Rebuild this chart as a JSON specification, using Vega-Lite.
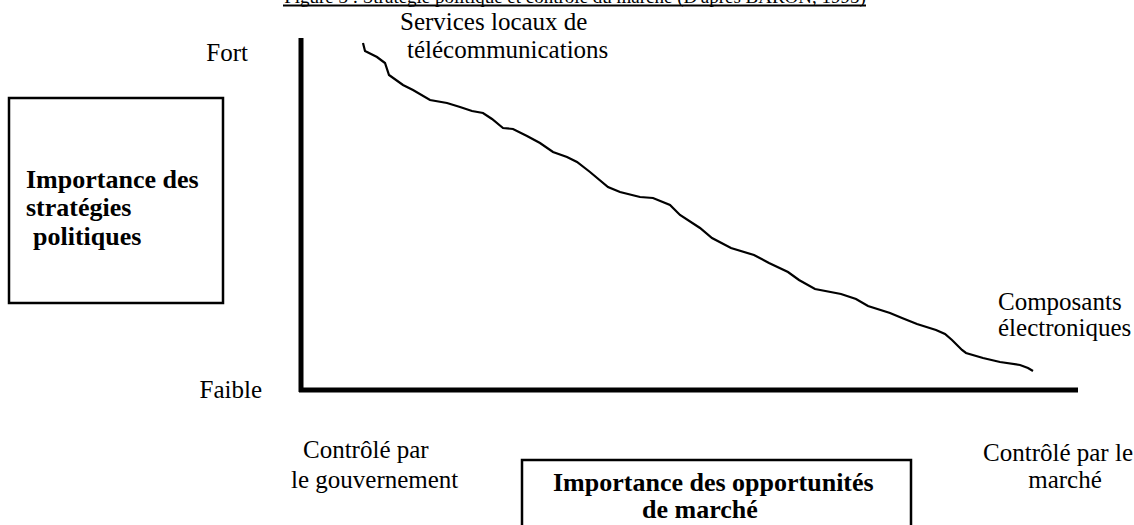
{
  "$schema": "https://vega.github.io/schema/vega-lite/v6.json",
  "width": 1134,
  "height": 525,
  "autosize": {"type": "none"},
  "padding": 0,
  "background": "white",
  "config": {"view": {"stroke": null}},
  "datasets": {
    "curve": [
      {"x": 62, "y": 347}, {"x": 64, "y": 339}, {"x": 76, "y": 333}, {"x": 84, "y": 327},
      {"x": 88, "y": 315}, {"x": 102, "y": 305}, {"x": 112, "y": 300}, {"x": 129, "y": 290},
      {"x": 146, "y": 287}, {"x": 159, "y": 283}, {"x": 171, "y": 279}, {"x": 182, "y": 277},
      {"x": 191, "y": 271}, {"x": 202, "y": 262}, {"x": 212, "y": 261}, {"x": 226, "y": 254},
      {"x": 239, "y": 247}, {"x": 252, "y": 238}, {"x": 266, "y": 233}, {"x": 276, "y": 228},
      {"x": 289, "y": 218}, {"x": 307, "y": 203}, {"x": 319, "y": 198}, {"x": 339, "y": 193},
      {"x": 352, "y": 192}, {"x": 369, "y": 185}, {"x": 379, "y": 175}, {"x": 399, "y": 162},
      {"x": 411, "y": 152}, {"x": 430, "y": 142}, {"x": 453, "y": 135}, {"x": 468, "y": 127},
      {"x": 487, "y": 118}, {"x": 498, "y": 110}, {"x": 514, "y": 101}, {"x": 540, "y": 96},
      {"x": 555, "y": 91}, {"x": 567, "y": 84}, {"x": 589, "y": 77}, {"x": 601, "y": 72},
      {"x": 616, "y": 66}, {"x": 635, "y": 60}, {"x": 644, "y": 56}, {"x": 651, "y": 50},
      {"x": 661, "y": 40}, {"x": 665, "y": 37}, {"x": 682, "y": 32}, {"x": 699, "y": 28},
      {"x": 719, "y": 25}, {"x": 727, "y": 22}, {"x": 732, "y": 19}
    ],
    "axes": [
      {"x": 0, "y": -2, "x2": 0, "y2": 352},
      {"x": -2, "y": 0, "x2": 777, "y2": 0}
    ],
    "boxes": [
      {"x": -292, "x2": -78, "y": 292, "y2": 87},
      {"x": 221, "x2": 610, "y": -70, "y2": -140}
    ],
    "underline": [
      {"x": -18, "x2": 565, "y": 384.5}
    ],
    "leftLabels": [
      {"label": "Services locaux de", "x": 99, "y": 368},
      {"label": "télécommunications", "x": 106, "y": 340},
      {"label": "Composants", "x": 697, "y": 88},
      {"label": "électroniques", "x": 697, "y": 62},
      {"label": "Contrôlé par", "x": 2, "y": -60},
      {"label": "le gouvernement", "x": -10, "y": -90}
    ],
    "rightLabels": [
      {"label": "Fort", "x": -53, "y": 337},
      {"label": "Faible", "x": -39, "y": 0}
    ],
    "centerLabels": [
      {"label": "Contrôlé par le", "x": 757, "y": -63},
      {"label": "marché", "x": 764, "y": -90}
    ],
    "boldLabels": [
      {"label": "Importance des", "x": -275, "y": 210},
      {"label": "stratégies", "x": -275, "y": 182},
      {"label": "politiques", "x": -268, "y": 153},
      {"label": "Importance des opportunités", "x": 252, "y": -93},
      {"label": "de marché", "x": 341, "y": -120}
    ],
    "title": [
      {"label": "Figure 3 : Stratégie politique et contrôle du marché (D'après BARON, 1995)", "x": 274, "y": 387}
    ]
  },
  "layer": [
    {
      "data": {"name": "axes"},
      "mark": {"type": "rule", "color": "black", "strokeWidth": 5},
      "encoding": {
        "x": {"field": "x", "type": "quantitative", "scale": {"domain": [-301, 833], "nice": false, "zero": false}, "axis": null},
        "y": {"field": "y", "type": "quantitative", "scale": {"domain": [-135, 390], "nice": false, "zero": false}, "axis": null},
        "x2": {"field": "x2"},
        "y2": {"field": "y2"}
      }
    },
    {
      "data": {"name": "boxes"},
      "mark": {"type": "rect", "fillOpacity": 0, "stroke": "black", "strokeWidth": 2.5},
      "encoding": {
        "x": {"field": "x", "type": "quantitative"},
        "y": {"field": "y", "type": "quantitative"},
        "x2": {"field": "x2"},
        "y2": {"field": "y2"}
      }
    },
    {
      "data": {"name": "underline"},
      "mark": {"type": "rule", "color": "black", "strokeWidth": 2},
      "encoding": {
        "x": {"field": "x", "type": "quantitative"},
        "x2": {"field": "x2"},
        "y": {"field": "y", "type": "quantitative"}
      }
    },
    {
      "data": {"name": "curve"},
      "mark": {"type": "line", "color": "black", "strokeWidth": 2.2},
      "encoding": {
        "x": {"field": "x", "type": "quantitative"},
        "y": {"field": "y", "type": "quantitative"},
        "order": {"field": "x", "type": "quantitative"}
      }
    },
    {
      "data": {"name": "title"},
      "mark": {"type": "text", "font": "Liberation Serif", "fontSize": 19, "align": "center", "baseline": "alphabetic", "color": "black"},
      "encoding": {
        "x": {"field": "x", "type": "quantitative"},
        "y": {"field": "y", "type": "quantitative"},
        "text": {"field": "label"}
      }
    },
    {
      "data": {"name": "leftLabels"},
      "mark": {"type": "text", "font": "Liberation Serif", "fontSize": 25, "align": "left", "baseline": "middle", "color": "black"},
      "encoding": {
        "x": {"field": "x", "type": "quantitative"},
        "y": {"field": "y", "type": "quantitative"},
        "text": {"field": "label"}
      }
    },
    {
      "data": {"name": "rightLabels"},
      "mark": {"type": "text", "font": "Liberation Serif", "fontSize": 25, "align": "right", "baseline": "middle", "color": "black"},
      "encoding": {
        "x": {"field": "x", "type": "quantitative"},
        "y": {"field": "y", "type": "quantitative"},
        "text": {"field": "label"}
      }
    },
    {
      "data": {"name": "centerLabels"},
      "mark": {"type": "text", "font": "Liberation Serif", "fontSize": 25, "align": "center", "baseline": "middle", "color": "black"},
      "encoding": {
        "x": {"field": "x", "type": "quantitative"},
        "y": {"field": "y", "type": "quantitative"},
        "text": {"field": "label"}
      }
    },
    {
      "data": {"name": "boldLabels"},
      "mark": {"type": "text", "font": "Liberation Serif", "fontSize": 26, "fontWeight": "bold", "align": "left", "baseline": "middle", "color": "black"},
      "encoding": {
        "x": {"field": "x", "type": "quantitative"},
        "y": {"field": "y", "type": "quantitative"},
        "text": {"field": "label"}
      }
    }
  ]
}
